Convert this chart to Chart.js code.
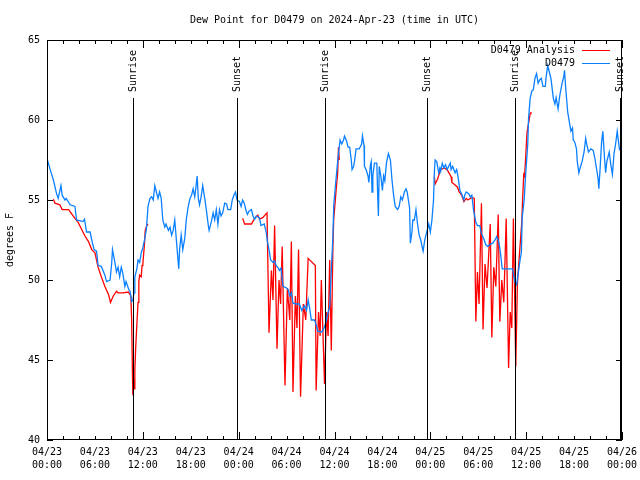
<!DOCTYPE html>
<html>
<head>
<meta charset="utf-8">
<title>Dew Point for D0479</title>
<script src="https://cdn.jsdelivr.net/npm/chart.js@4.4.1/dist/chart.umd.min.js"></script>
<style>
  html, body { margin: 0; padding: 0; background: #fff; }
</style>
</head>
<body>
<canvas id="dewChart" width="640" height="480"></canvas>
<script>
// Observations (blue), hours since 04/23 00:00 UTC
const obsHours = [
  0, 0.4, 0.8, 1.2, 1.4, 1.75, 1.9, 2.25, 2.4, 2.9, 3.5, 3.7, 4.5, 4.7, 4.95, 5.4, 5.6, 5.9, 6.2, 6.4,
  6.8, 7.25, 7.45, 7.9, 8.1, 8.2, 8.5, 8.7, 8.9, 9.1, 9.3, 9.5, 9.75, 9.9, 10.25, 10.4, 10.6, 10.75, 10.9, 11.0,
  11.25, 11.4, 11.6, 11.8, 12.0, 12.25, 12.45, 12.65, 12.9, 13.1, 13.3, 13.5, 13.75, 13.9, 14.1, 14.3, 14.5, 14.75, 14.9, 15.2,
  15.4, 15.6, 15.8, 16.0, 16.2, 16.4, 16.5, 16.6, 16.8, 17.0, 17.25, 17.45, 17.65, 17.9, 18.1, 18.3, 18.5, 18.65, 18.8, 18.95,
  19.1, 19.3, 19.5, 19.75, 19.95, 20.2, 20.3, 20.6, 20.8, 21.0, 21.2, 21.4, 21.6, 21.8, 22.0, 22.25, 22.5, 22.65, 23.0, 23.2,
  23.4, 23.6, 23.8, 24.1, 24.3, 24.5, 24.7, 24.95, 25.1, 25.3, 25.6, 25.8, 26.0, 26.2, 26.6, 26.8, 27.2, 27.45, 27.6, 27.8,
  28.0, 28.3, 28.5, 28.7, 28.9, 29.1, 29.3, 29.55, 30.0, 30.2, 30.4, 30.6, 30.8, 31.2, 31.6, 31.9, 32.25, 32.5, 32.7, 32.9,
  33.1, 33.5, 33.7, 33.9, 34.3, 34.5, 34.75, 34.9, 35.2, 35.4, 35.6, 35.8, 35.9, 36.1, 36.3, 36.5, 36.7, 36.9, 37.1, 37.25,
  37.5, 37.7, 37.9, 38.1, 38.2, 38.4, 38.5, 38.7, 39.1, 39.4, 39.5, 39.7, 39.75, 39.95, 40.2, 40.3, 40.5, 40.6, 40.7, 40.8,
  41.0, 41.3, 41.4, 41.5, 41.6, 41.8, 42.0, 42.15, 42.3, 42.5, 42.75, 43.0, 43.2, 43.4, 43.6, 43.9, 44.1, 44.3, 44.5, 44.75,
  44.95, 45.1, 45.4, 45.5, 45.7, 45.8, 46.0, 46.2, 46.4, 46.6, 46.8, 47.0, 47.1, 47.3, 47.6, 47.8, 48.0, 48.2, 48.4, 48.5,
  48.6, 48.8, 49.05, 49.2, 49.3, 49.5, 49.7, 49.9, 50.1, 50.3, 50.5, 50.6, 50.8, 51.1, 51.3, 51.5, 51.7, 51.9, 52.2, 52.3,
  52.5, 52.8, 53.0, 53.2, 53.4, 53.7, 53.9, 54.2, 54.4, 54.5, 54.75, 54.95, 55.2, 55.4, 55.8, 56.1, 56.3, 56.5, 56.7, 56.8,
  57.0, 57.4, 57.85, 58.3, 58.4, 58.6, 58.8, 59.0, 59.25, 59.4, 59.5, 59.75, 59.95, 60.2, 60.3, 60.5, 60.7, 60.9, 61.1, 61.3,
  61.5, 61.7, 61.9, 62.1, 62.4, 62.5, 62.7, 62.9, 63.1, 63.2, 63.4, 63.6, 63.75, 64.0, 64.2, 64.5, 64.7, 64.8, 64.95, 65.2,
  65.4, 65.6, 65.8, 65.9, 66.1, 66.3, 66.4, 66.6, 66.75, 67.0, 67.25, 67.45, 67.6, 67.8, 68.1, 68.4, 68.6, 68.8, 69.0, 69.1,
  69.25, 69.45, 69.6, 69.8, 69.95, 70.1, 70.4, 70.6, 70.8, 71.0, 71.2, 71.4, 71.5, 71.7
];
const obsDewpoint = [
  57.6, 56.9, 56.25, 55.4, 55.1, 55.9, 55.3, 55.0, 55.1, 54.7, 54.6, 53.75, 53.65, 53.8, 53.0, 53.0, 52.5, 51.9, 51.8, 50.9,
  50.85, 50.3, 49.9, 50.0, 51.05, 51.9, 51.1, 50.5, 50.8, 50.2, 50.8, 50.4, 49.6, 49.9, 49.4, 49.3, 48.65, 48.75, 49.2, 50.2,
  50.7, 51.25, 51.1, 51.7, 52.0, 52.6, 53.2, 54.6, 55.1, 55.2, 55.0, 55.9, 55.4, 55.1, 55.5, 55.1, 53.75, 53.3, 53.5, 53.1,
  53.3, 52.8, 53.1, 53.75, 52.5, 51.25, 50.7, 51.9, 52.8, 51.9, 52.6, 53.8, 54.5, 55.1, 55.3, 55.7, 55.2, 55.8, 56.5, 55.1,
  54.7, 55.2, 55.9, 55.1, 54.4, 53.4, 53.1, 53.7, 54.2, 53.75, 54.4, 53.5, 54.4, 54.0, 54.2, 54.8, 54.75, 54.4, 54.4, 55.0,
  55.3, 55.5, 55.0, 54.9, 54.6, 55.0, 54.8, 54.3, 54.1, 54.3, 54.4, 54.0, 53.8, 54.0, 53.9, 53.4, 53.5, 53.0, 52.4, 51.9,
  51.25, 51.1, 51.2, 50.9, 50.8, 50.6, 50.75, 49.6, 49.5, 49.4, 49.0, 49.2, 48.55, 48.5, 48.5, 48.1, 48.4, 48.1, 48.75, 48.2,
  47.5, 47.5, 47.2, 46.8, 46.75, 46.8, 47.1, 47.3, 48.0, 48.3, 50.6, 52.7, 54.6, 55.8, 56.9, 57.9, 58.75, 58.5, 58.7, 59.0,
  58.7, 58.3, 58.3, 57.5, 56.9, 57.1, 57.4, 58.2, 58.2, 58.5, 59.0, 58.4, 57.1, 56.9, 56.5, 56.1, 57.2, 57.4, 55.5, 56.5,
  57.3, 57.3, 55.4, 54.0, 57.1, 56.5, 55.6, 56.5, 56.2, 57.3, 57.9, 57.5, 56.25, 55.3, 54.6, 54.4, 54.6, 55.2, 55.0, 55.5,
  55.7, 55.5, 54.5, 52.3, 53.0, 53.75, 53.75, 54.4, 53.5, 52.8, 52.5, 52.0, 51.8, 52.5, 53.1, 53.5, 53.0, 53.75, 55.0, 56.7,
  57.5, 57.4, 56.7, 57.0, 56.8, 57.3, 57.0, 57.2, 56.9, 57.1, 57.3, 56.9, 57.1, 56.7, 56.9, 56.35, 55.6, 55.4, 55.0, 55.3,
  55.5, 55.4, 55.2, 55.3, 54.4, 53.6, 53.4, 53.4, 52.9, 52.8, 52.5, 52.2, 52.1, 52.2, 52.3, 52.5, 52.7, 52.5, 52.0, 51.6,
  50.7, 50.7, 50.7, 50.7, 50.4, 49.85, 49.7, 50.4, 51.3, 51.7, 53.9, 55.0, 56.7, 58.5, 60.1, 61.35, 61.8, 61.9, 62.6, 62.9,
  62.3, 62.5, 62.6, 62.1, 62.1, 62.7, 63.4, 63.0, 62.6, 62.2, 61.35, 61.0, 61.4, 60.7, 61.5, 62.3, 62.7, 63.1, 62.0, 60.5,
  59.9, 59.3, 59.5, 58.75, 58.6, 58.2, 57.4, 56.7, 57.0, 57.4, 58.0, 58.85, 58.45, 58.0, 58.2, 58.1, 57.6, 57.0, 56.35, 55.7,
  56.9, 58.65, 59.3, 57.7, 56.7, 57.4, 58.0, 57.2, 56.6, 57.9, 58.5, 59.3, 58.9, 58.1
];

// Analysis (red); null marks the gaps between the 00-12 UTC runs
const anlHours = [
  0.8, 1.0, 1.6, 1.9, 2.7, 3.0, 3.5, 3.9, 4.3, 4.75, 5.2, 5.6, 6.0, 6.4, 6.8, 7.25, 7.7, 7.95, 8.3, 8.7,
  8.9, 9.5, 10.2, 10.5, 10.6, 10.7, 10.75, 10.8, 10.9, 11.0, 11.1, 11.25, 11.4, 11.5, 11.6, 11.8, 11.9, 12.0, 12.2, 12.3, 12.5, 12.65,
  18,
  24.5, 24.75, 25.2, 25.6, 26.0, 26.4, 26.6, 27.0, 27.55, 27.8, 28.1, 28.3, 28.5, 28.8, 29.05, 29.25, 29.45, 29.8, 30.1, 30.4,
  30.6, 30.8, 31.1, 31.3, 31.5, 31.75, 32.1, 32.4, 32.7, 33.6, 33.7, 34.0, 34.2, 34.35, 34.75, 35.0, 35.2, 35.4, 35.6, 35.8,
  35.9, 36.2, 36.4, 36.5, 36.6,
  42,
  48.5, 48.6, 48.9, 49.1, 49.3, 49.7, 50.1, 50.6, 50.7, 50.95, 51.4, 51.6, 51.8, 52.0, 52.2, 52.5, 52.7, 53.0, 53.3, 53.5,
  53.7, 53.9, 54.1, 54.4, 54.6, 54.85, 55.1, 55.5, 55.7, 55.95, 56.2, 56.5, 56.7, 56.95, 57.2, 57.5, 57.8, 58.0, 58.2, 58.4,
  58.7, 58.9, 59.0, 59.2, 59.45, 59.55, 59.7, 59.8, 59.95, 60.1, 60.3, 60.5, 60.6
];
const anlDewpoint = [
  55.05, 54.8, 54.7, 54.4, 54.4, 54.2, 53.85, 53.6, 53.2, 52.75, 52.4, 51.9, 51.7, 50.8, 50.2, 49.6, 49.1, 48.6, 49.0, 49.3,
  49.2, 49.2, 49.25, 49.0, 47.5, 44.1, 42.8, 44.0, 43.2, 44.4, 45.7, 47.2, 48.6, 49.9, 50.3, 50.2, 50.9, 51.0, 52.2, 53.1, 53.4, 53.5,
  null,
  53.85, 53.5, 53.5, 53.5, 53.85, 54.05, 53.8, 53.9, 54.2, 46.7, 50.6, 48.75, 53.4, 45.7, 50.0, 48.5, 52.1, 43.4, 49.5, 47.5,
  52.4, 43.0, 49.0, 47.0, 51.9, 42.7, 48.5, 47.5, 51.35, 50.9, 43.1, 48.0, 46.5, 50.0, 43.5, 48.0, 46.5, 51.25, 45.6, 52.1,
  53.75, 55.6, 56.7, 58.3, 57.5,
  null,
  56.45, 56.0, 56.3, 56.6, 56.9, 57.0, 56.9, 56.45, 56.1, 56.0, 55.8, 55.5, 55.4, 55.2, 54.9, 55.1, 55.0, 55.1, 55.15, 55.1,
  47.4, 50.5, 48.5, 54.8, 46.9, 51.0, 49.5, 53.5, 46.4, 50.8, 49.6, 54.1, 47.4, 50.0, 48.6, 53.85, 44.5, 48.0, 47.0, 53.85,
  44.6, 49.7, 50.5, 51.9, 53.6, 55.0, 56.6, 56.5, 57.8, 59.2, 59.8, 60.4, 60.5
];

const sunHours = [10.75, 23.75, 34.75, 47.6, 58.6, 71.75];
const sunLabels = ["Sunrise", "Sunset", "Sunrise", "Sunset", "Sunrise", "Sunset"];
const dayLabels = ["04/23", "04/24", "04/25", "04/26"];
const seriesNames = ["D0479 Analysis", "D0479"];
const seriesColors = ["#ff0000", "#0a80ff"];

const FONT = "10px 'DejaVu Sans Mono', monospace";
const toPoints = (hours, vals) => hours.map((h, i) => ({ x: h, y: vals[i] }));

// frame, ticks, sunrise/sunset markers, legend and title
const overlay = {
  id: "overlay",
  afterDatasetsDraw(chart) {
    const { ctx, chartArea: a, scales } = chart;
    const x = scales.x, y = scales.y;
    ctx.save();
    ctx.strokeStyle = "#000";
    ctx.fillStyle = "#000";
    ctx.lineWidth = 1;
    ctx.font = FONT;

    sunHours.forEach((h, i) => {
      const px = Math.round(x.getPixelForValue(h)) + 0.5;
      ctx.beginPath();
      ctx.moveTo(px, a.top + 58);
      ctx.lineTo(px, a.bottom);
      ctx.stroke();
      ctx.save();
      ctx.translate(px, a.top + 52);
      ctx.rotate(-Math.PI / 2);
      ctx.textAlign = "left";
      ctx.textBaseline = "middle";
      ctx.fillText(sunLabels[i], 0, 0);
      ctx.restore();
    });

    // border
    ctx.strokeRect(a.left + 0.5, a.top + 0.5, a.width - 1, a.height - 1);

    // inward ticks
    ctx.beginPath();
    for (let h = 0; h <= 72; h += 2) {
      const px = Math.round(x.getPixelForValue(h)) + 0.5;
      const len = h % 12 === 0 ? 8 : 4;
      ctx.moveTo(px, a.bottom);
      ctx.lineTo(px, a.bottom - len);
      ctx.moveTo(px, a.top);
      ctx.lineTo(px, a.top + len);
    }
    for (let v = 40; v <= 65; v += 5) {
      const py = Math.round(y.getPixelForValue(v)) + 0.5;
      ctx.moveTo(a.left, py);
      ctx.lineTo(a.left + 6, py);
      ctx.moveTo(a.right, py);
      ctx.lineTo(a.right - 6, py);
    }
    ctx.stroke();

    // legend
    ctx.textAlign = "right";
    ctx.textBaseline = "middle";
    seriesNames.forEach((name, i) => {
      const ly = a.top + 10 + i * 13;
      ctx.fillStyle = "#000";
      ctx.fillText(name, a.right - 47, ly);
      ctx.strokeStyle = seriesColors[i];
      ctx.beginPath();
      ctx.moveTo(a.right - 40, Math.round(ly) + 0.5);
      ctx.lineTo(a.right - 12, Math.round(ly) + 0.5);
      ctx.stroke();
    });

    // title
    ctx.fillStyle = "#000";
    ctx.textAlign = "center";
    ctx.fillText("Dew Point for D0479 on 2024-Apr-23 (time in UTC)", (a.left + a.right) / 2, 20);
    ctx.restore();
  },
};

new Chart(document.getElementById("dewChart"), {
  type: "line",
  data: {
    datasets: [
      {
        label: seriesNames[0],
        data: toPoints(anlHours, anlDewpoint),
        borderColor: seriesColors[0],
        borderWidth: 1.3,
        pointRadius: 0,
        tension: 0,
        spanGaps: false,
        order: 1,
      },
      {
        label: seriesNames[1],
        data: toPoints(obsHours, obsDewpoint),
        borderColor: seriesColors[1],
        borderWidth: 1.3,
        pointRadius: 0,
        tension: 0,
        order: 0,
      },
    ],
  },
  options: {
    responsive: false,
    animation: false,
    layout: { padding: { top: 40, right: 18, left: 0, bottom: 0 } },
    plugins: {
      legend: { display: false },
      tooltip: { enabled: false },
    },
    scales: {
      x: {
        type: "linear",
        min: 0,
        max: 72,
        afterFit: (s) => { s.height = 40; },
        // ticks are drawn by the overlay; tickLength only sets the label gap
        grid: { display: false, drawTicks: true, tickLength: 6 },
        border: { display: false },
        ticks: {
          stepSize: 6,
          autoSkip: false,
          maxRotation: 0,
          padding: 0,
          color: "#000",
          font: { family: "'DejaVu Sans Mono', monospace", size: 10, lineHeight: 1.3 },
          callback: (v) => {
            const hh = String(v % 24).padStart(2, "0");
            return [dayLabels[Math.floor(v / 24)], hh + ":00"];
          },
        },
      },
      y: {
        min: 40,
        max: 65,
        afterFit: (s) => { s.width = 47; },
        grid: { display: false, drawTicks: false },
        border: { display: false },
        ticks: {
          stepSize: 5,
          padding: 7,
          color: "#000",
          font: { family: "'DejaVu Sans Mono', monospace", size: 10 },
        },
        title: {
          display: true,
          text: "degrees F",
          color: "#000",
          padding: { top: 4, bottom: 0 },
          font: { family: "'DejaVu Sans Mono', monospace", size: 10 },
        },
      },
    },
  },
  plugins: [overlay],
});
</script>
</body>
</html>
